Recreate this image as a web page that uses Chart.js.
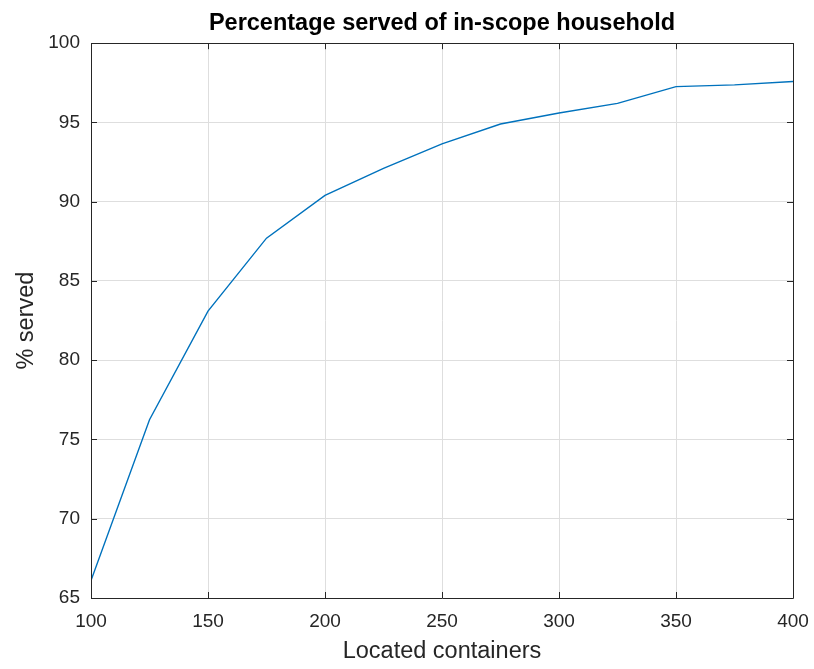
<!DOCTYPE html>
<html>
<head>
<meta charset="utf-8">
<script src="https://cdn.jsdelivr.net/npm/chart.js@4"></script>
<style>
  html, body { margin: 0; padding: 0; background: #ffffff; }
  #wrap { width: 814px; height: 669px; }
</style>
</head>
<body>
<div id="wrap"><canvas id="chart" width="814" height="669"></canvas></div>
<script>
// Number of located containers and the share of in-scope households served
const containers = [100, 125, 150, 175, 200, 225, 250, 275, 300, 325, 350, 375, 400];
const servedPct  = [66.1, 76.25, 83.1, 87.7, 90.4, 92.1, 93.65, 94.9, 95.6, 96.2, 97.26, 97.37, 97.58];

// Axis tick values
const xTickValues = [100, 150, 200, 250, 300, 350, 400];
const yTickValues = [65, 70, 75, 80, 85, 90, 95, 100];

const FONT = "'Liberation Sans', Arial, Helvetica, sans-serif";
const AXIS_COLOR = '#262626';

// Draws the closed axes box with short inward tick marks on all four sides
const boxTicks = {
  id: 'boxTicks',
  afterDatasetsDraw(chart) {
    const { ctx, chartArea: a, scales: { x, y } } = chart;
    const len = 6;
    ctx.save();
    ctx.strokeStyle = AXIS_COLOR;
    ctx.lineWidth = 1;
    ctx.beginPath();
    ctx.rect(Math.round(a.left) + 0.5, Math.round(a.top) + 0.5,
             Math.round(a.right - a.left), Math.round(a.bottom - a.top));
    ctx.stroke();
    ctx.beginPath();
    xTickValues.forEach(v => {
      const px = Math.round(x.getPixelForValue(v)) + 0.5;
      ctx.moveTo(px, a.bottom); ctx.lineTo(px, a.bottom - len);
      ctx.moveTo(px, a.top); ctx.lineTo(px, a.top + len);
    });
    yTickValues.forEach(v => {
      const py = Math.round(y.getPixelForValue(v)) + 0.5;
      ctx.moveTo(a.left, py); ctx.lineTo(a.left + len, py);
      ctx.moveTo(a.right, py); ctx.lineTo(a.right - len, py);
    });
    ctx.stroke();
    ctx.restore();
  }
};

new Chart(document.getElementById('chart'), {
  type: 'scatter',
  data: {
    datasets: [{
      data: containers.map((c, i) => ({ x: c, y: servedPct[i] })),
      showLine: true,
      borderColor: '#0072BD',
      borderWidth: 1.4,
      pointRadius: 0,
      pointHoverRadius: 0,
      tension: 0
    }]
  },
  options: {
    responsive: false,
    animation: false,
    devicePixelRatio: 1,
    layout: { padding: { top: 0, right: 21, bottom: 0, left: 0 } },
    plugins: {
      legend: { display: false },
      tooltip: { enabled: false },
      title: {
        display: true,
        fullSize: false,
        text: 'Percentage served of in-scope household',
        color: '#000000',
        font: { family: FONT, size: 23.5, weight: 'bold' },
        padding: { top: 9, bottom: 6 }
      }
    },
    scales: {
      x: {
        type: 'linear',
        min: 100, max: 400,
        afterBuildTicks: s => { s.ticks = xTickValues.map(v => ({ value: v })); },
        afterFit: s => { s.height = 71; s.paddingLeft = 0; s.paddingRight = 0; },
        grid: { color: '#dedede', lineWidth: 1, drawTicks: false },
        border: { display: false },
        ticks: { color: AXIS_COLOR, padding: 12, maxRotation: 0, font: { family: FONT, size: 19 } },
        title: {
          display: true, text: 'Located containers', color: AXIS_COLOR,
          font: { family: FONT, size: 23.5 }, padding: { top: 0, bottom: 3 }
        }
      },
      y: {
        type: 'linear',
        min: 65, max: 100,
        afterBuildTicks: s => { s.ticks = yTickValues.map(v => ({ value: v })); },
        afterFit: s => { s.width = 91; },
        grid: { color: '#dedede', lineWidth: 1, drawTicks: false },
        border: { display: false },
        ticks: { color: AXIS_COLOR, padding: 11, font: { family: FONT, size: 19 } },
        title: {
          display: true, text: '% served', color: AXIS_COLOR,
          font: { family: FONT, size: 23.5 }, padding: { top: 12, bottom: 0 }
        }
      }
    }
  },
  plugins: [boxTicks]
});
</script>
</body>
</html>
